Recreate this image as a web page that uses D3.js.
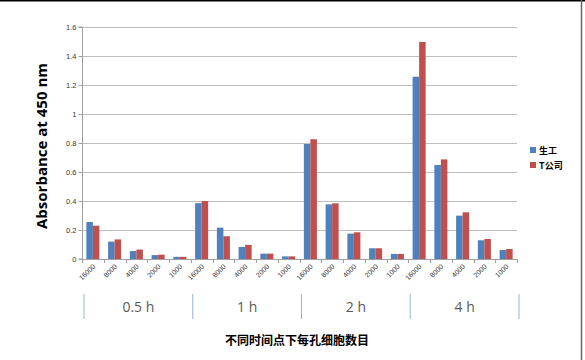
<!DOCTYPE html>
<html><head><meta charset="utf-8">
<script src="https://cdn.jsdelivr.net/npm/d3@7"></script>
<style>body{margin:0;background:#fff}svg{display:block}</style>
</head><body>
<svg id="c" width="585" height="360"></svg>
<script>
const groups = ["0.5 h", "1 h", "2 h", "4 h"];
const cellCounts = ["16000", "8000", "4000", "2000", "1000"];
const seriesNames = ["生工", "T公司"];
const seriesColors = ["#4F81BD", "#C0504D"];
const shenggong = [0.255, 0.12, 0.055, 0.027, 0.015,
                   0.385, 0.216, 0.083, 0.037, 0.018,
                   0.793, 0.377, 0.175, 0.074, 0.035,
                   1.257, 0.648, 0.299, 0.129, 0.062];
const tCompany = [0.23, 0.135, 0.065, 0.03, 0.015,
                  0.40, 0.157, 0.097, 0.037, 0.018,
                  0.826, 0.384, 0.184, 0.074, 0.035,
                  1.497, 0.687, 0.322, 0.138, 0.069];
const yTicks = [0, 0.2, 0.4, 0.6, 0.8, 1, 1.2, 1.4, 1.6];

const svg = d3.select("#c");
const L = 82, R = 517, T = 27, B = 259;
const cats = [];
groups.forEach(g => cellCounts.forEach(c => cats.push(g + "|" + c)));
const x = d3.scaleBand().domain(cats).range([L, R]).paddingInner(0.4).paddingOuter(0.2);
const xs = d3.scaleBand().domain([0, 1]).range([0, x.bandwidth()]);
const y = d3.scaleLinear().domain([0, 1.6]).range([B, T]);

// borders
svg.append("line").attr("x1", 0).attr("x2", 585).attr("y1", 0.5).attr("y2", 0.5).attr("stroke", "#000").attr("stroke-width", 2);
svg.append("line").attr("x1", 581.5).attr("x2", 581.5).attr("y1", 0).attr("y2", 360).attr("stroke", "#666").attr("stroke-width", 1.5);

// gridlines
svg.append("g").selectAll("line").data(yTicks.slice(1)).join("line")
  .attr("x1", L).attr("x2", R).attr("y1", d => Math.round(y(d)) + 0.5).attr("y2", d => Math.round(y(d)) + 0.5)
  .attr("stroke", "#BFBFBF").attr("stroke-width", 1);

// y axis
const ya = svg.append("g").attr("transform", `translate(${L + 0.5},0)`)
  .call(d3.axisLeft(y).tickValues(yTicks).tickSize(4).tickFormat(d => d3.format("")(+d.toFixed(1))));
ya.select(".domain").attr("stroke", "#A0A0A0").attr("d", `M-4,${T}H0V${B}H-4`);
ya.selectAll(".tick line").attr("stroke", "#A0A0A0");
ya.selectAll(".tick text").attr("font-family", "Liberation Sans, Arial, sans-serif").attr("font-size", 7.5).attr("fill", "#333").attr("x", -6);

// bars
const data = cats.map((c, i) => ({c, v: [shenggong[i], tCompany[i]]}));
const bg = svg.append("g").selectAll("g").data(data).join("g").attr("transform", d => `translate(${x(d.c)},0)`);
bg.selectAll("rect").data(d => d.v.map((v, k) => ({v, k}))).join("rect")
  .attr("x", d => xs(d.k)).attr("width", xs.bandwidth())
  .attr("y", d => y(d.v)).attr("height", d => B - y(d.v))
  .attr("fill", d => seriesColors[d.k]);

// x axis baseline and ticks between categories
const step = x.step();
svg.append("line").attr("x1", L).attr("x2", R).attr("y1", B + 0.5).attr("y2", B + 0.5).attr("stroke", "#A0A0A0");
svg.append("g").selectAll("line").data(d3.range(cats.length + 1)).join("line")
  .attr("x1", i => Math.round(L + i * (R - L) / cats.length) + 0.5).attr("x2", i => Math.round(L + i * (R - L) / cats.length) + 0.5)
  .attr("y1", B).attr("y2", B + 4).attr("stroke", "#A0A0A0");

// x tick labels rotated
svg.append("g").selectAll("text").data(cats).join("text")
  .attr("transform", d => `translate(${x(d) + x.bandwidth() / 2 + 3},${B + 8}) rotate(-45)`)
  .attr("text-anchor", "end").attr("font-family", "Liberation Sans, Arial, sans-serif").attr("font-size", 7).attr("fill", "#333")
  .text(d => d.split("|")[1]);

// group separators and labels
const gw = (R - L) / groups.length;
svg.append("g").selectAll("line").data(d3.range(groups.length + 1)).join("line")
  .attr("x1", i => L + 2 + i * gw).attr("x2", i => L + 2 + i * gw)
  .attr("y1", 294).attr("y2", 319).attr("stroke", "#95B3D7").attr("stroke-width", 1);
svg.append("g").selectAll("text").data(groups).join("text")
  .attr("x", (d, i) => L + 2 + (i + 0.5) * gw).attr("y", 312)
  .attr("text-anchor", "middle").attr("font-family", "Open Sans, Liberation Sans, sans-serif").attr("font-size", 14).attr("fill", "#595959")
  .text(d => d);

// axis titles
svg.append("text").attr("transform", "translate(47,146) rotate(-90)").attr("text-anchor", "middle")
  .attr("font-family", "Open Sans, Liberation Sans, sans-serif").attr("font-weight", "bold").attr("font-size", 15).attr("fill", "#000")
  .text("Absorbance at 450 nm");
svg.append("text").attr("x", 297).attr("y", 345).attr("text-anchor", "middle")
  .attr("font-family", "Noto Sans CJK SC, sans-serif").attr("font-weight", "bold").attr("font-size", 12).attr("fill", "#000")
  .text("不同时间点下每孔细胞数目");

// legend
const lg = svg.append("g").selectAll("g").data(seriesNames).join("g").attr("transform", (d, i) => `translate(530,${150 + i * 15})`);
lg.append("rect").attr("x", 0).attr("y", -3).attr("width", 6).attr("height", 6).attr("fill", (d, i) => seriesColors[i]);
lg.append("text").attr("x", 9).attr("y", 3.5).attr("font-family", "Noto Sans CJK SC, sans-serif").attr("font-weight", "bold").attr("font-size", 9).attr("fill", "#000").text(d => d);
</script>
</body></html>
